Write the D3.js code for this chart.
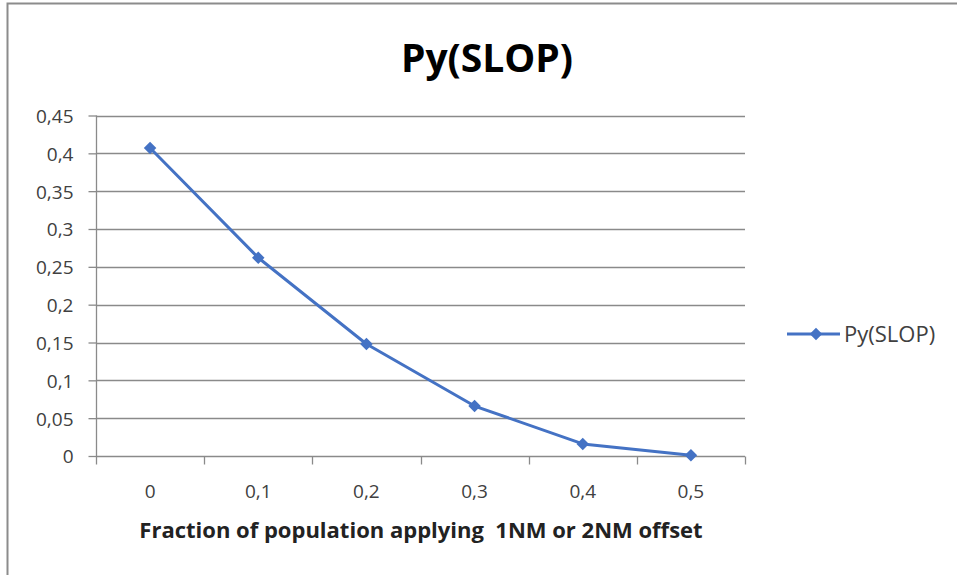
<!DOCTYPE html>
<html>
<head>
<meta charset="utf-8">
<script src="https://cdn.jsdelivr.net/npm/d3@7"></script>
<style>
  body { margin: 0; background: #fff; }
  text { font-family: "Open Sans", "Noto Sans", sans-serif; }
</style>
</head>
<body>
<div id="chart"></div>
<script>
// chart data
var categories = ["0", "0,1", "0,2", "0,3", "0,4", "0,5"];
var pySlop = [0.407, 0.262, 0.148, 0.066, 0.016, 0.001];
var yTicks = [0, 0.05, 0.1, 0.15, 0.2, 0.25, 0.3, 0.35, 0.4, 0.45];
var seriesName = "Py(SLOP)";

var width = 957, height = 575;
var plot = { left: 96, right: 745, top: 115.5, bottom: 456 };

var svg = d3.select("#chart")
    .append("svg")
    .attr("width", width)
    .attr("height", height);

// outer frame (only top/left visible in the picture)
svg.append("rect")
    .attr("x", 7.5)
    .attr("y", 3.5)
    .attr("width", 980)
    .attr("height", 600)
    .style("fill", "#fff")
    .style("stroke", "#8c8c8c")
    .style("stroke-width", 2);

var x = d3.scaleBand()
    .domain(categories)
    .range([plot.left, plot.right]);

var y = d3.scaleLinear()
    .domain([0, 0.45])
    .range([plot.bottom, plot.top]);

var fmt = function(d) { return d3.format("")(+d.toFixed(2)).replace(".", ","); };

// gridlines
svg.append("g")
    .selectAll("line")
    .data(yTicks)
    .enter()
    .append("line")
    .attr("x1", plot.left)
    .attr("x2", plot.right)
    .attr("y1", function(d) { return Math.round(y(d)) + 0.5; })
    .attr("y2", function(d) { return Math.round(y(d)) + 0.5; })
    .style("stroke", "#8a8a8a")
    .style("stroke-width", 1.3);

// y axis
var yAxis = svg.append("g")
    .attr("transform", "translate(" + (plot.left + 0.5) + ",0)")
    .call(d3.axisLeft(y).tickValues(yTicks).tickFormat(fmt).tickSize(8).tickPadding(15));
yAxis.select(".domain").remove();
yAxis.append("line")
    .attr("y1", plot.top).attr("y2", plot.bottom)
    .style("stroke", "#8a8a8a").style("stroke-width", 1.3);

// x axis
var xAxis = svg.append("g")
    .attr("transform", "translate(0," + (Math.round(plot.bottom) + 0.5) + ")")
    .call(d3.axisBottom(x).tickSize(0).tickPadding(28));
xAxis.select(".domain").remove();
xAxis.selectAll(".tickmark")
    .data(d3.range(categories.length + 1))
    .enter()
    .append("line")
    .attr("x1", function(i) { return Math.round(plot.left + i * x.step()) + 0.5; })
    .attr("x2", function(i) { return Math.round(plot.left + i * x.step()) + 0.5; })
    .attr("y1", 0).attr("y2", 8)
    .style("stroke", "#8a8a8a").style("stroke-width", 1.3);

svg.selectAll(".tick line").style("stroke", "#8a8a8a").style("stroke-width", 1.3);
svg.selectAll(".tick text")
    .style("font-size", "19px")
    .style("fill", "#404040");
yAxis.selectAll(".tick text").attr("dy", "0.36em");
xAxis.selectAll(".tick text").attr("dy", "0.71em").attr("y", 28);

// series
var cx = function(d, i) { return x(categories[i]) + x.bandwidth() / 2; };

var line = d3.line()
    .x(cx)
    .y(function(d) { return y(d); });

svg.append("path")
    .datum(pySlop)
    .attr("d", line)
    .style("fill", "none")
    .style("stroke", "#4472c4")
    .style("stroke-width", 3)
    .style("stroke-linejoin", "round");

var diamond = d3.symbol().type(d3.symbolDiamond2).size(100);

svg.append("g")
    .selectAll("path")
    .data(pySlop)
    .enter()
    .append("path")
    .attr("d", diamond)
    .attr("transform", function(d, i) { return "translate(" + cx(d, i) + "," + y(d) + ")"; })
    .style("fill", "#4472c4");

// title
svg.append("text")
    .attr("x", 487)
    .attr("y", 72)
    .attr("text-anchor", "middle")
    .style("font-size", "39px")
    .style("font-weight", "bold")
    .style("fill", "#000")
    .text(seriesName);

// x axis title
svg.append("text")
    .attr("x", 421)
    .attr("y", 538)
    .attr("text-anchor", "middle")
    .style("font-size", "22px")
    .style("font-weight", "bold")
    .style("fill", "#222")
    .style("white-space", "pre")
    .text("Fraction of population applying  1NM or 2NM offset");

// legend
var legend = svg.append("g").attr("transform", "translate(787,334)");
legend.append("line")
    .attr("x1", 0).attr("x2", 53)
    .style("stroke", "#4472c4").style("stroke-width", 3);
legend.append("path")
    .attr("d", diamond)
    .attr("transform", "translate(29,0)")
    .style("fill", "#4472c4");
legend.append("text")
    .attr("x", 57)
    .attr("y", 8)
    .style("font-size", "22px")
    .style("fill", "#404040")
    .text(seriesName);
</script>
</body>
</html>
